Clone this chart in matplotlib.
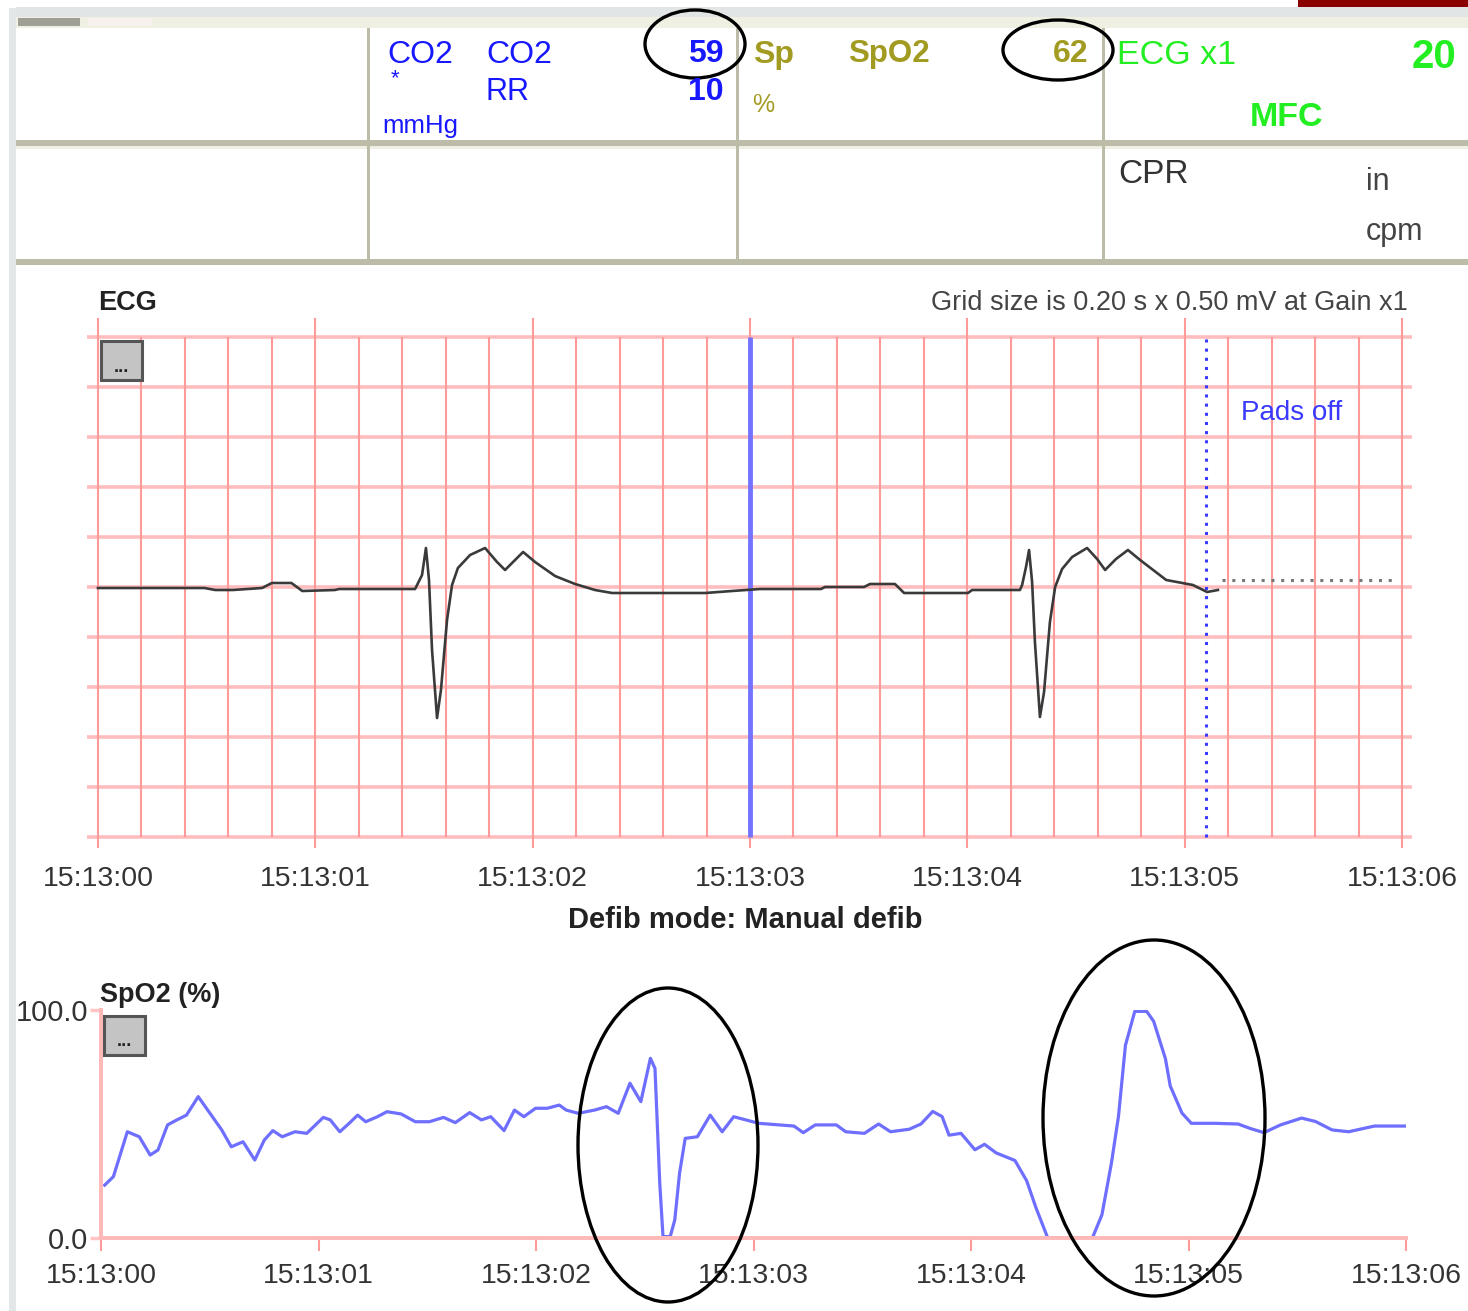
import matplotlib
matplotlib.use("Agg")
import matplotlib.pyplot as plt
from matplotlib.patches import Rectangle, Ellipse

plt.rcParams['font.family'] = ['Liberation Sans', 'DejaVu Sans']

# ==========================
# Data
# ==========================
time_labels = ["15:13:00", "15:13:01", "15:13:02", "15:13:03",
               "15:13:04", "15:13:05", "15:13:06"]
time_ticks = [0, 1, 2, 3, 4, 5, 6]

# ECG trace (s from 15:13:00, mV)
ecg_t = [0.00, 0.49, 0.54, 0.62, 0.755, 0.80, 0.89, 0.94, 1.09, 1.11, 1.459,
         1.491, 1.509, 1.523, 1.537, 1.560, 1.578, 1.606, 1.629, 1.656, 1.712,
         1.781, 1.836, 1.873, 1.919, 1.956, 2.011, 2.103, 2.195, 2.287, 2.365,
         2.793, 2.917, 3.046, 3.327, 3.345, 3.525, 3.552, 3.667, 3.709, 4.003,
         4.022, 4.242, 4.252, 4.270, 4.284, 4.298, 4.311, 4.334, 4.353, 4.380,
         4.404, 4.436, 4.482, 4.551, 4.597, 4.634, 4.684, 4.739, 4.795, 4.915,
         5.038, 5.103, 5.153]
ecg_mv = [-0.01, -0.01, -0.03, -0.03, -0.01, 0.04, 0.04, -0.04, -0.03, -0.02, -0.02,
          0.12, 0.39, 0.07, -0.63, -1.31, -1.03, -0.33, 0.02, 0.19, 0.32,
          0.39, 0.25, 0.17, 0.27, 0.35, 0.25, 0.11, 0.03, -0.03, -0.06,
          -0.06, -0.04, -0.02, -0.02, 0.00, 0.00, 0.03, 0.03, -0.06, -0.06,
          -0.03, -0.03, 0.02, 0.20, 0.37, 0.05, -0.55, -1.30, -1.05, -0.35,
          0.00, 0.18, 0.30, 0.39, 0.28, 0.17, 0.28, 0.37, 0.27, 0.07,
          0.02, -0.05, -0.03]

pads_off_t = 5.098
marker_t = 3.0
flat_lead = (5.172, 5.960, 0.07)

# SpO2 pleth trace (s, %)
spo2_t = [0.017, 0.057, 0.121, 0.176, 0.226, 0.262, 0.306, 0.349, 0.393, 0.447,
          0.501, 0.555, 0.599, 0.653, 0.707, 0.751, 0.790, 0.833, 0.892, 0.946,
          1.022, 1.054, 1.098, 1.141, 1.180, 1.217, 1.271, 1.315, 1.380, 1.445,
          1.510, 1.575, 1.629, 1.695, 1.749, 1.792, 1.853, 1.901, 1.944, 1.998,
          2.052, 2.107, 2.139, 2.194, 2.269, 2.324, 2.378, 2.432, 2.482, 2.526,
          2.547, 2.569, 2.584, 2.617, 2.638, 2.660, 2.686, 2.742, 2.801, 2.856,
          2.909, 3.024, 3.186, 3.229, 3.284, 3.381, 3.424, 3.510, 3.575, 3.630,
          3.716, 3.770, 3.824, 3.867, 3.899, 3.954, 4.018, 4.062, 4.116, 4.202,
          4.256, 4.299, 4.353, 4.558, 4.602, 4.645, 4.678, 4.710, 4.753, 4.808,
          4.840, 4.894, 4.916, 4.970, 5.013, 5.120, 5.228, 5.282, 5.347, 5.423,
          5.520, 5.584, 5.660, 5.736, 5.855, 6.000]
spo2_v = [23.2, 26.9, 46.6, 44.4, 36.4, 38.6, 49.6, 51.8, 53.9, 62.0,
          54.7, 47.4, 40.0, 42.2, 34.2, 43.0, 47.1, 44.4, 46.6, 45.9,
          52.9, 51.8, 46.6, 50.3, 53.9, 51.0, 53.2, 55.4, 54.4, 51.0,
          51.0, 52.9, 50.6, 55.0, 51.8, 53.2, 47.1, 56.1, 53.2, 56.9,
          56.9, 58.3, 56.1, 54.7, 56.1, 57.6, 54.7, 67.9, 59.8, 78.8,
          74.4, 24.0, 0.6, 0.6, 7.9, 28.4, 43.7, 44.4, 53.9, 46.6,
          53.2, 50.3, 49.1, 46.2, 49.6, 49.6, 46.6, 45.9, 50.0, 46.6,
          47.7, 50.0, 55.5, 53.3, 45.1, 45.9, 38.7, 41.1, 37.3, 34.0,
          25.1, 13.2, 0.0, 0.0, 10.2, 32.5, 53.3, 84.5, 99.4, 99.4,
          95.0, 78.6, 66.7, 54.8, 50.3, 50.3, 50.0, 48.1, 46.2, 49.6,
          52.6, 51.1, 47.4, 46.6, 49.1, 49.1]

# ==========================
# Figure (pixel layout helpers)
# ==========================
W, H = 1468, 1311
fig = plt.figure(figsize=(W / 100, H / 100), dpi=100)
fig.patch.set_facecolor("white")


def box(x0, y0, x1, y1):
    return [x0 / W, 1 - y1 / H, (x1 - x0) / W, (y1 - y0) / H]


tick_color = "#333333"
grid_h = "#ffbdbd"
grid_v = "#ff9a9a"

# ==========================
# ECG strip
# ==========================
ax = fig.add_axes(box(87, 318, 1412, 848))
ax.set_xlim(-0.0506, 6.046)
ax.set_ylim(-2.61, 2.69)
for s in ax.spines.values():
    s.set_visible(False)
ax.set_yticks([])
ax.set_xticks(time_ticks)
ax.set_xticklabels(time_labels)
ax.tick_params(axis="x", length=0, pad=13, labelsize=20.5, labelcolor=tick_color)

for k in range(11):
    ax.axhline(-2.5 + 0.5 * k, color=grid_h, lw=2.6, zorder=1)
for k in range(31):
    tv = 0.2 * k
    if k % 5 == 0:
        ax.vlines(tv, -2.61, 2.69, color=grid_v, lw=1.5, zorder=1)
    else:
        ax.vlines(tv, -2.5, 2.5, color=grid_v, lw=1.5, zorder=1)

ax.vlines(marker_t, -2.5, 2.5, color="#7373ff", lw=3.5, zorder=2)
ax.vlines(pads_off_t, -2.5, 2.5, color="#3a3aff", lw=2.2, linestyles=(0, (1, 2)), zorder=2)
ax.hlines(flat_lead[2], flat_lead[0], flat_lead[1], color="#777777", lw=2.2,
          linestyles=(0, (1, 2.2)), zorder=2)
ax.plot(ecg_t, ecg_mv, color="#3a3a3a", lw=1.9, zorder=3)
ax.text(5.26, 1.74, "Pads off", color="#3a3aff", fontsize=20, va="center")

# ==========================
# SpO2 pleth
# ==========================
ax2 = fig.add_axes(box(101, 1010, 1406, 1238))
ax2.set_xlim(0, 6)
ax2.set_ylim(0, 100)
ax2.spines["top"].set_visible(False)
ax2.spines["right"].set_visible(False)
for side in ["left", "bottom"]:
    ax2.spines[side].set_color("#ffb8b8")
    ax2.spines[side].set_linewidth(2.8)
ax2.set_xticks(time_ticks)
ax2.set_xticklabels(time_labels)
ax2.set_yticks([0, 100])
ax2.set_yticklabels(["0.0", "100.0"])
ax2.tick_params(axis="x", length=9, width=1.5, color="#ff9a9a", pad=9,
                labelsize=20.5, labelcolor=tick_color)
ax2.tick_params(axis="y", length=8, width=2.5, color="#ffc4c4", pad=1,
                labelsize=21, labelcolor=tick_color)
ax2.plot(spo2_t, spo2_v, color="#6e6eff", lw=2.3, zorder=2)

# ==========================
# Header panel, labels and annotations (pixel coordinates)
# ==========================
ov = fig.add_axes([0, 0, 1, 1], zorder=10)
ov.set_xlim(0, W)
ov.set_ylim(H, 0)
ov.axis("off")
ov.patch.set_alpha(0)

ov.add_patch(Rectangle((9, 8), 7, H, color="#e4e7e7", lw=0))
ov.add_patch(Rectangle((16, 7), W - 16, 10, color="#e1e5e5", lw=0))
ov.add_patch(Rectangle((16, 17), W - 16, 11, color="#f0f0e2", lw=0))
ov.add_patch(Rectangle((18, 18), 62, 8, color="#a09f95", lw=0))
ov.add_patch(Rectangle((88, 18), 64, 8, color="#f6f1ec", lw=0))
ov.add_patch(Rectangle((1298, 0), 170, 7, color="#8b0000", lw=0))

line_c = "#bcbca8"
ov.add_patch(Rectangle((16, 140), W - 16, 6, color=line_c, lw=0))
ov.add_patch(Rectangle((16, 146), W - 16, 3, color="#efefe4", lw=0))
ov.add_patch(Rectangle((16, 259), W - 16, 6, color=line_c, lw=0))
for xv in [368, 737, 1103]:
    ov.add_patch(Rectangle((xv - 1.5, 28), 3.5, 232, color=line_c, lw=0))

blue = "#1818ff"
olive = "#a29b22"
green = "#22ee22"
ov.text(387, 63, "CO2", color=blue, fontsize=23)
ov.text(391, 84, "*", color=blue, fontsize=16)
ov.text(382, 133, "mmHg", color=blue, fontsize=18.5)
ov.text(486, 63, "CO2", color=blue, fontsize=23)
ov.text(486, 100, "RR", color=blue, fontsize=22)
ov.text(724, 62, "59", color=blue, fontsize=23, fontweight="bold", ha="right")
ov.text(724, 100, "10", color=blue, fontsize=23, fontweight="bold", ha="right")

ov.text(753, 63, "Sp", color=olive, fontsize=23, fontweight="bold")
ov.text(752, 112, "%", color=olive, fontsize=18)
ov.text(848, 62, "SpO2", color=olive, fontsize=22.5, fontweight="bold")
ov.text(1088, 62, "62", color=olive, fontsize=23, fontweight="bold", ha="right")

ov.text(1117, 64, "ECG x1", color=green, fontsize=24.5)
ov.text(1456, 68, "20", color=green, fontsize=29, fontweight="bold", ha="right")
ov.text(1250, 126, "MFC", color=green, fontsize=24.5, fontweight="bold")

ov.text(1118, 183, "CPR", color="#333333", fontsize=24)
ov.text(1366, 190, "in", color="#444444", fontsize=22)
ov.text(1366, 240, "cpm", color="#444444", fontsize=22)

ov.text(98, 310, "ECG", color="#222222", fontsize=19.5, fontweight="bold")
ov.text(1408, 310, "Grid size is 0.20 s x 0.50 mV at Gain x1", color="#444444",
        fontsize=19.5, ha="right")
ov.text(745, 928, "Defib mode: Manual defib", color="#222222", fontsize=21,
        fontweight="bold", ha="center")
ov.text(100, 1002, "SpO2 (%)", color="#222222", fontsize=19.5, fontweight="bold")

# "..." buttons
for bx, by in [(101, 341), (104, 1016)]:
    ov.add_patch(Rectangle((bx, by), 41, 39, facecolor="#c4c4c4",
                           edgecolor="#555555", lw=2.2))
    ov.text(bx + 20.5, by + 26, "...", color="#222222", fontsize=13,
            fontweight="bold", ha="center", va="center")

# hand drawn circles
for cx, cy, ew, eh in [(695, 44, 100, 68), (1058, 50, 110, 60),
                       (668, 1145, 180, 314), (1154, 1118, 222, 356)]:
    ov.add_patch(Ellipse((cx, cy), ew, eh, fill=False, edgecolor="black", lw=2.4))

plt.savefig("out.png", dpi=100)
plt.close()
